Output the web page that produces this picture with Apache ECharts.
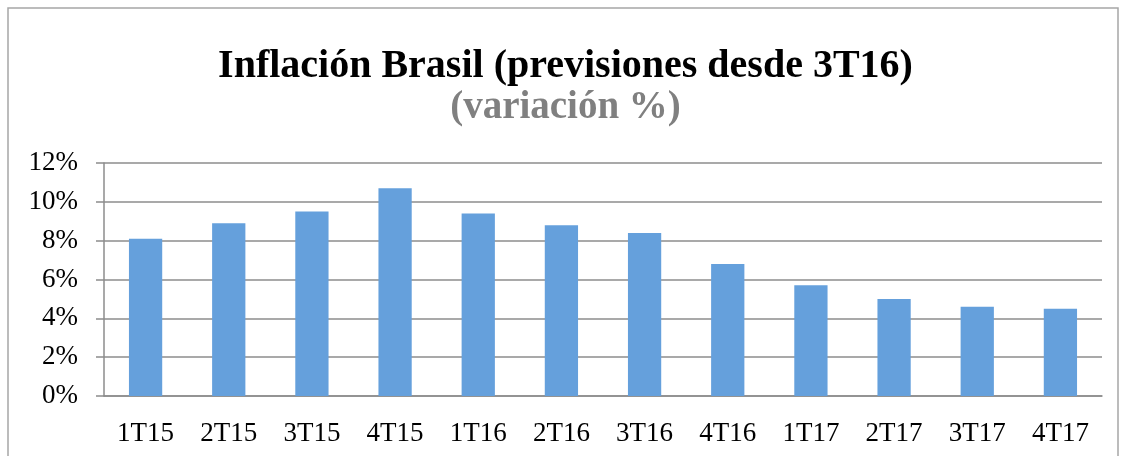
<!DOCTYPE html>
<html>
<head>
<meta charset="utf-8">
<script src="https://cdn.jsdelivr.net/npm/echarts@6/dist/echarts.min.js"></script>
<style>
  html, body { margin: 0; padding: 0; background: #fff; }
  #main { width: 1131px; height: 456px; }
</style>
</head>
<body>
<div id="main"></div>
<script>
// trimestres y variacion (%)
const quarters = ['1T15', '2T15', '3T15', '4T15', '1T16', '2T16', '3T16', '4T16', '1T17', '2T17', '3T17', '4T17'];
const inflation = [8.1, 8.9, 9.5, 10.7, 9.4, 8.8, 8.4, 6.8, 5.7, 5.0, 4.6, 4.5];
const yTicks = [0, 2, 4, 6, 8, 10, 12];

const serif = '"Liberation Serif", "DejaVu Serif", serif';
const lineGray = '#8c8c8c';

let myChart = echarts.init(document.getElementById('main'));

let option = {
    animation: false,
    title: [
        {
            text: 'Inflación Brasil (previsiones desde 3T16)',
            left: 'center',
            top: 42,
            textStyle: { fontFamily: serif, fontSize: 40, fontWeight: 'bold', color: '#000' }
        },
        {
            text: '(variación %)',
            left: 'center',
            top: 83,
            textStyle: { fontFamily: serif, fontSize: 39, fontWeight: 'bold', color: '#808080' }
        }
    ],
    graphic: [
        {
            type: 'rect',
            shape: { x: 8, y: 8, width: 1110, height: 460 },
            style: { fill: 'none', stroke: '#a6a6a6', lineWidth: 1.5 },
            silent: true
        }
    ],
    grid: { left: 104, right: 29, top: 163, bottom: 60 },
    xAxis: {
        type: 'category',
        data: quarters,
        axisLine: { lineStyle: { color: lineGray, width: 1.5 } },
        axisTick: { length: 8, lineStyle: { color: lineGray, width: 1.5 } },
        axisLabel: { interval: 0, margin: 24, fontFamily: serif, fontSize: 27, color: '#000' }
    },
    yAxis: {
        type: 'value',
        min: yTicks[0],
        max: yTicks[yTicks.length - 1],
        interval: 2,
        axisLine: { show: true, lineStyle: { color: lineGray, width: 1.5 } },
        axisTick: { show: true, length: 8, lineStyle: { color: lineGray, width: 1.5 } },
        splitLine: { lineStyle: { color: lineGray, width: 1.5 } },
        axisLabel: { margin: 26, fontFamily: serif, fontSize: 27, color: '#000', formatter: '{value}%' }
    },
    series: [
        {
            name: 'Inflación',
            type: 'bar',
            barWidth: '40%',
            data: inflation,
            itemStyle: { color: '#65a0dc' }
        }
    ]
};

myChart.setOption(option);
</script>
</body>
</html>
